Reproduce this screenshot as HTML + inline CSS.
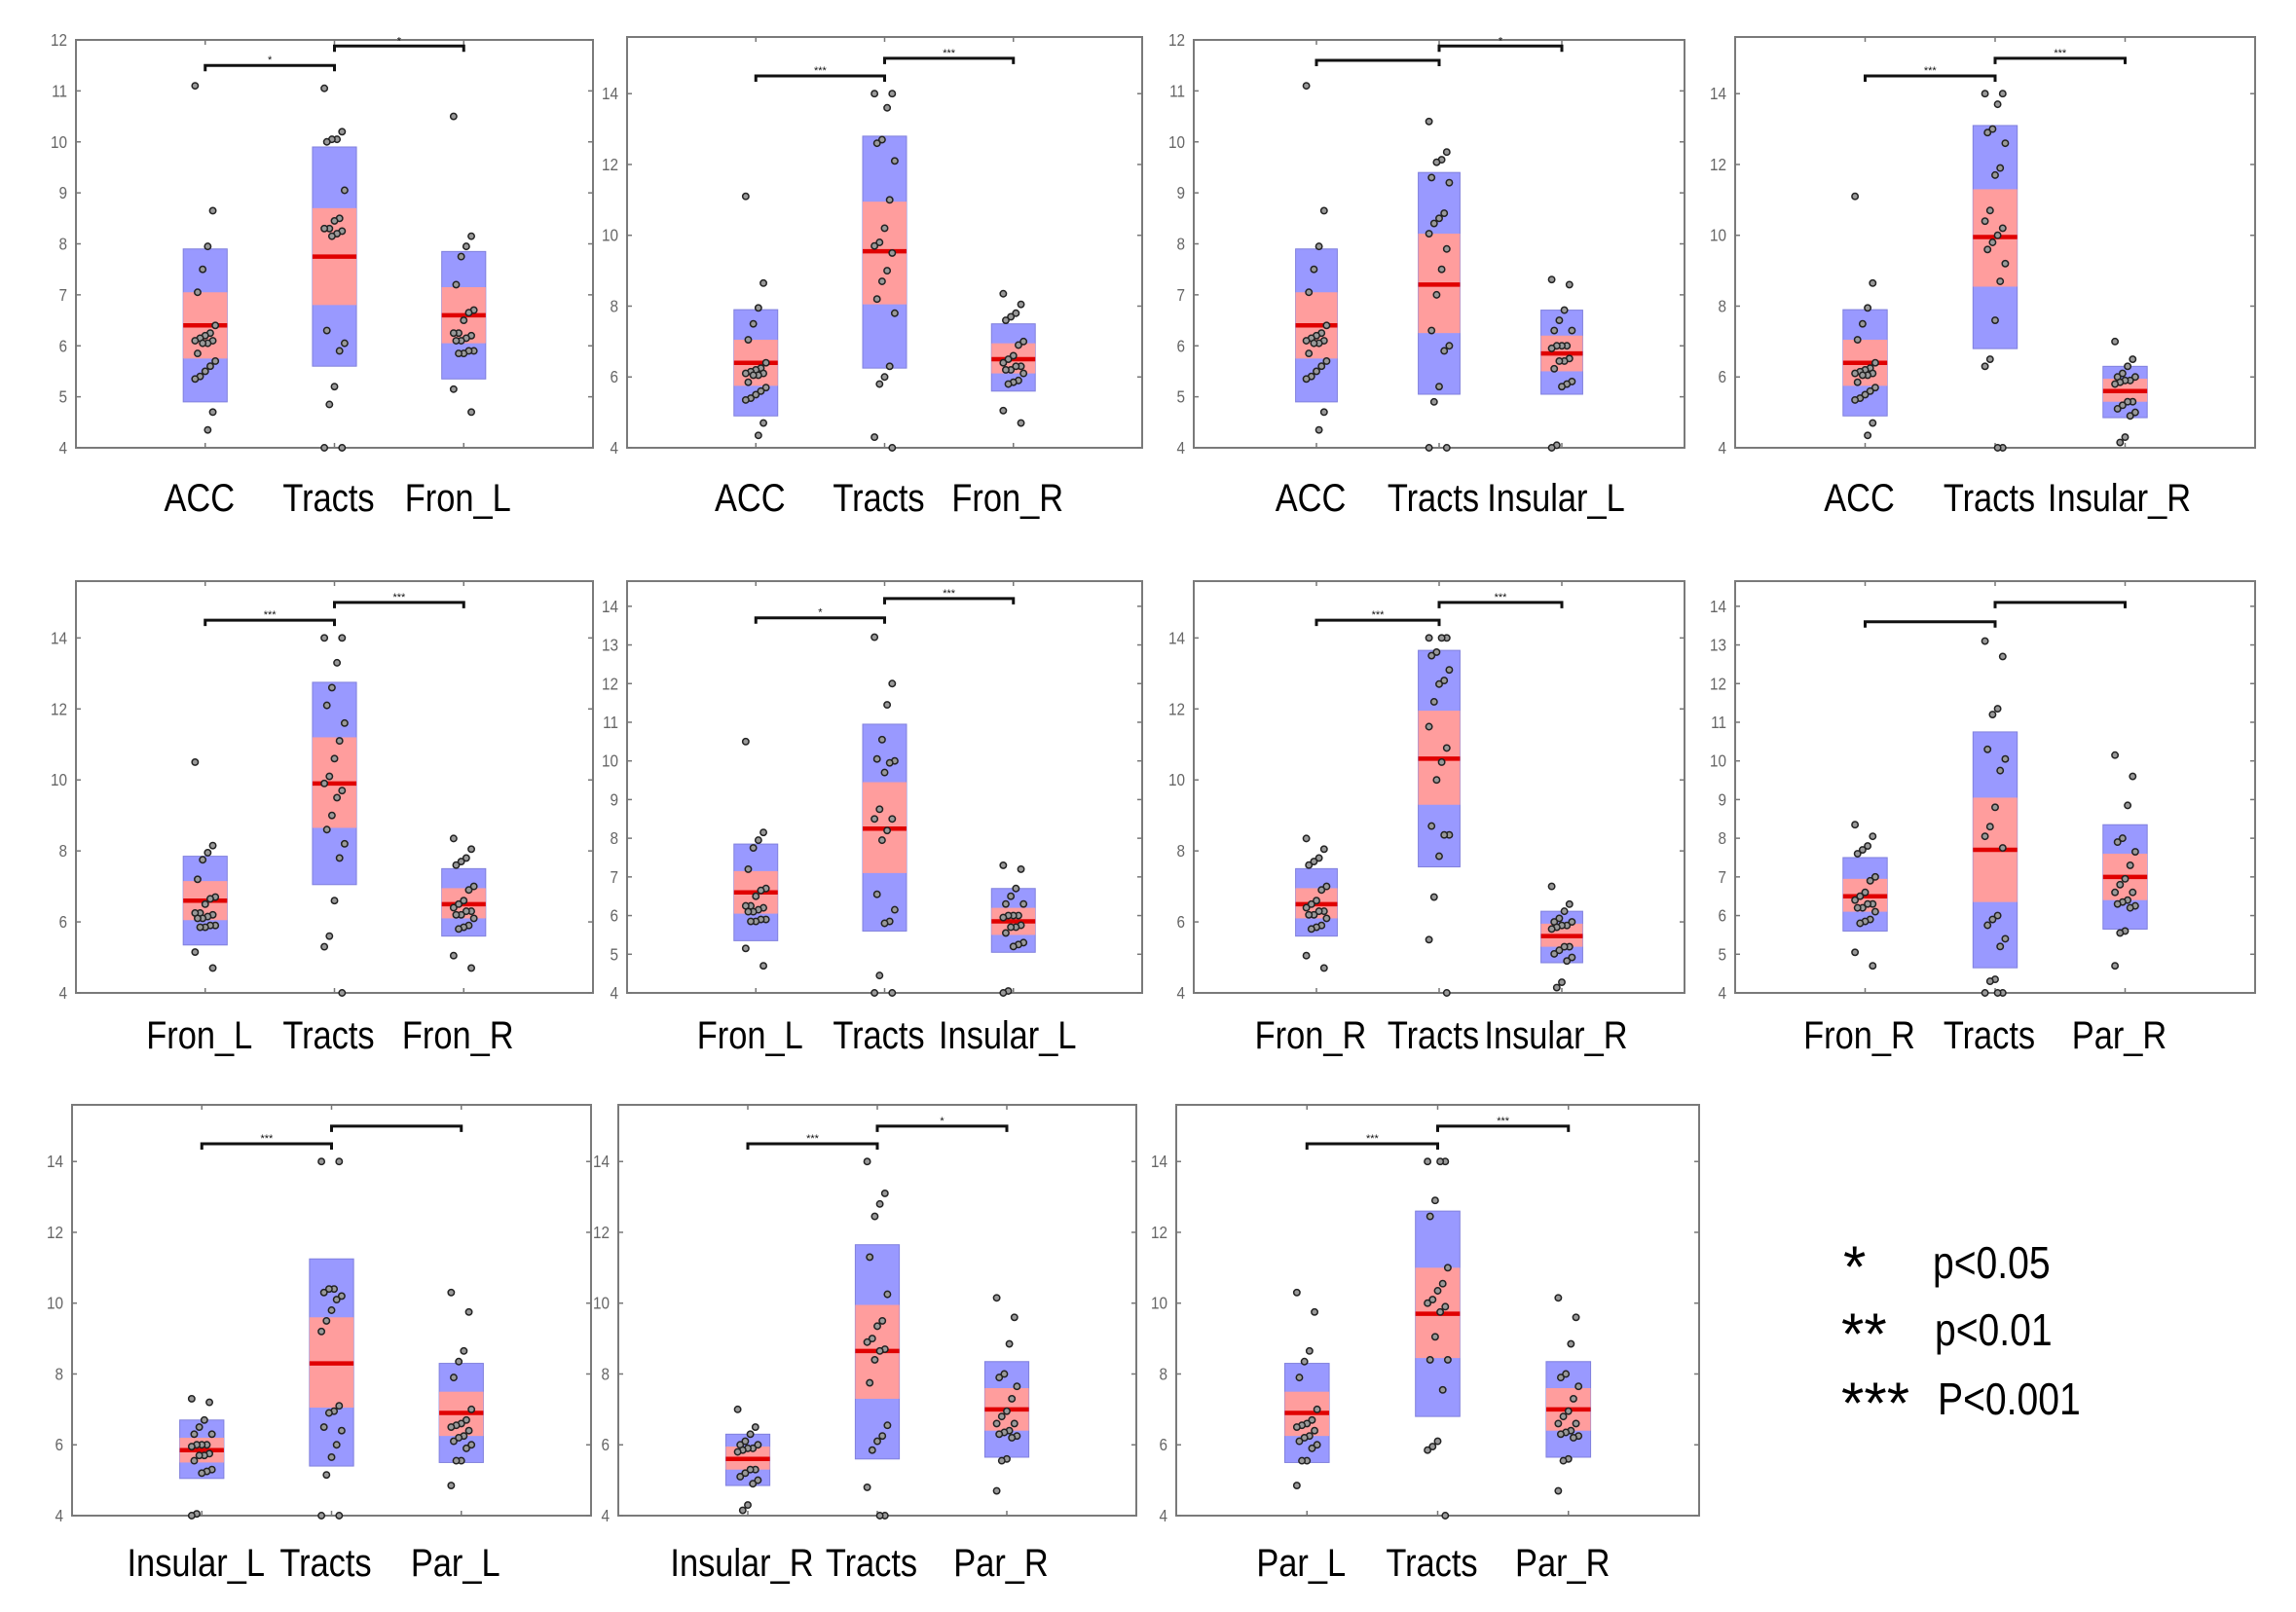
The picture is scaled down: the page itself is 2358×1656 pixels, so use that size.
<!DOCTYPE html>
<html><head><meta charset="utf-8">
<style>
html,body{margin:0;padding:0;background:#fff;}
body{width:2358px;height:1656px;overflow:hidden;}
svg{display:block;}
</style></head>
<body>
<svg id="fig" width="2358" height="1656" xmlns="http://www.w3.org/2000/svg">
<g id="legend" font-family="'Liberation Sans',sans-serif" font-size="46" fill="#000">
<text x="1893" y="1322" font-size="60">*</text>
<text transform="translate(1985,1313) scale(0.85,1)">p&lt;0.05</text>
<text x="1891" y="1391" font-size="60">**</text>
<text transform="translate(1987,1382) scale(0.85,1)">p&lt;0.01</text>
<text x="1891" y="1462" font-size="60">***</text>
<text transform="translate(1990,1453) scale(0.85,1)">P&lt;0.001</text>
</g>
</svg>
<script>
// ---- data ----
const regionBox = {
  ACC:[4.9,5.75,6.4,7.05,7.9],
  Fron_L:[5.35,6.05,6.6,7.15,7.85],
  Fron_R:[5.6,6.1,6.5,6.95,7.5],
  Insular_L:[5.05,5.5,5.85,6.2,6.7],
  Insular_R:[4.85,5.3,5.6,5.95,6.3],
  Par_L:[5.5,6.25,6.9,7.5,8.3],
  Par_R:[5.65,6.4,7.0,7.6,8.35]
};
const regionPts = {
  ACC:[11.1,8.65,7.95,7.5,7.05,6.4,6.25,6.2,6.15,6.1,6.1,6.05,6.05,5.85,5.7,5.6,5.5,5.4,5.35,4.7,4.35],
  Fron_L:[10.5,8.15,7.95,7.75,7.2,6.7,6.65,6.5,6.25,6.25,6.2,6.15,6.1,6.1,5.9,5.9,5.85,5.85,5.15,4.7],
  Fron_R:[8.35,8.05,7.8,7.7,7.6,7.0,6.9,6.6,6.5,6.4,6.3,6.3,6.2,6.2,6.1,5.9,5.85,5.8,5.05,4.7],
  Insular_L:[7.3,7.2,6.7,6.5,6.3,6.3,6.0,6.0,6.0,5.95,5.75,5.7,5.7,5.55,5.3,5.25,5.2,4.05,4.0],
  Insular_R:[7.0,6.5,6.3,6.1,6.0,6.0,5.9,5.9,5.85,5.8,5.3,5.3,5.2,5.1,5.0,4.9,4.3,4.15],
  Par_L:[10.3,9.75,8.65,8.35,7.9,7.0,6.7,6.6,6.55,6.5,6.4,6.25,6.2,6.1,6.0,5.9,5.55,5.55,4.85],
  Par_R:[10.15,9.6,8.85,8.0,7.9,7.65,7.3,6.95,6.8,6.6,6.6,6.4,6.35,6.3,6.25,6.2,5.6,5.55,4.7]
};
const panelCats = [
  ["ACC","Fron_L"],["ACC","Fron_R"],["ACC","Insular_L"],["ACC","Insular_R"],
  ["Fron_L","Fron_R"],["Fron_L","Insular_L"],["Fron_R","Insular_R"],["Fron_R","Par_R"],
  ["Insular_L","Par_L"],["Insular_R","Par_R"],["Par_L","Par_R"]
];
const tractBox = [
  [5.6,6.8,7.75,8.7,9.9],[6.25,8.05,9.55,10.95,12.8],[5.05,6.25,7.2,8.2,9.4],[6.8,8.55,9.95,11.3,13.1],
  [7.05,8.65,9.9,11.2,12.75],[5.6,7.1,8.25,9.45,10.95],[7.55,9.3,10.6,11.95,13.65],[4.65,6.35,7.7,9.05,10.75],
  [5.4,7.05,8.3,9.6,11.25],[5.6,7.3,8.65,9.95,11.65],[6.8,8.45,9.7,11.0,12.6]
];
const tractPts = [
  [11.05,10.2,10.05,10.05,10.0,9.05,8.5,8.45,8.3,8.3,8.25,8.2,8.15,6.3,6.05,5.9,5.2,4.85,4.0,4.0],
  [14,14,13.6,12.7,12.6,12.1,11,10.2,9.8,9.7,9.5,9.0,8.7,8.2,7.8,6.3,6.0,5.8,4.3,4.0],
  [10.4,9.8,9.65,9.6,9.3,9.2,8.6,8.5,8.4,8.2,7.9,7.5,7.0,6.3,6.0,5.9,5.2,4.9,4.0,4.0],
  [14,14,13.7,13,12.9,12.6,11.9,11.7,10.7,10.4,10.2,10,9.8,9.6,9.2,8.7,7.6,6.5,6.3,4,4],
  [14,14,13.3,12.6,12.1,11.6,11.1,10.6,10.1,9.9,9.7,9.5,9.0,8.6,8.2,7.8,6.6,5.6,5.3,4.0],
  [13.2,12.0,11.45,10.55,10.05,10.0,9.95,9.7,8.75,8.5,8.5,8.2,7.95,6.55,6.15,5.85,5.8,4.45,4.0,4.0],
  [14,14,14,13.6,13.5,13.1,12.8,12.7,12.2,11.5,10.9,10.5,10.0,8.7,8.45,8.45,7.85,6.7,5.5,4.0],
  [13.1,12.7,11.35,11.2,10.3,10.05,9.75,8.8,8.3,8.05,7.75,6.0,5.9,5.75,5.4,5.2,4.35,4.3,4.0,4.0,4.0],
  [14,14,10.4,10.4,10.3,10.2,10.1,9.8,9.5,9.2,7.1,6.95,6.9,6.5,6.4,6.0,5.65,5.15,4.0,4.0],
  [14,13.1,12.8,12.45,11.3,10.25,9.5,9.35,9.0,8.9,8.7,8.65,8.4,7.75,6.55,6.25,6.1,5.85,4.8,4.0,4.0],
  [14,14,14,12.9,12.45,11.0,10.55,10.35,10.1,10.0,9.9,9.75,9.05,8.4,8.4,7.55,6.1,5.95,5.85,4.0]
];
const panelYmax = [12,15.6,12,15.6,15.6,14.65,15.6,14.65,15.6,15.6,15.6];
const panelTicks = [
  [4,5,6,7,8,9,10,11,12],[4,6,8,10,12,14],[4,5,6,7,8,9,10,11,12],[4,6,8,10,12,14],
  [4,6,8,10,12,14],[4,5,6,7,8,9,10,11,12,13,14],[4,6,8,10,12,14],[4,5,6,7,8,9,10,11,12,13,14],
  [4,6,8,10,12,14],[4,6,8,10,12,14],[4,6,8,10,12,14]
];
const bracketY = [[11.5,11.88],[14.5,15.0],[11.6,11.88],[14.5,15.0],[14.5,15.0],[13.7,14.2],[14.5,15.0],[13.6,14.1],[14.5,15.0],[14.5,15.0],[14.5,15.0]];
const bracketStars = [["*","*"],["***","***"],["","*"],["***","***"],["***","***"],["*","***"],["***","***"],["",""],["***",""],["***","*"],["***","***"]];

// ---- layout (not data) ----
const layout = [
  [78,41,609,460,511],[644,38,1173,460,511],[1226,41,1730,460,511],[1782,38,2316,460,511],
  [78,597,609,1020,1063],[644,597,1173,1020,1063],[1226,597,1730,1020,1063],[1782,597,2316,1020,1063],
  [74,1135,607,1557,1605],[635,1135,1167,1557,1605],[1208,1135,1745,1557,1605]
];
const NS='http://www.w3.org/2000/svg';
const svg=document.getElementById('fig');
function mk(tag,attrs,parent){const e=document.createElementNS(NS,tag);for(const k in attrs)e.setAttribute(k,attrs[k]);parent.appendChild(e);return e;}

panelCats.forEach((pc,p)=>{
  const [x0,y0,x1,y1,ly]=layout[p];
  const ymax=panelYmax[p];
  const sx=v=>x0+(x1-x0)*v/4;
  const sy=v=>y1-(y1-y0)*(v-4)/(ymax-4);
  const g=mk('g',{},svg);
  
  
  const cats=[pc[0],'Tracts',pc[1]];
  const boxes=[regionBox[pc[0]],tractBox[p],regionBox[pc[1]]];
  const pts=[regionPts[pc[0]],tractPts[p],regionPts[pc[1]]];
  const fr=mk('rect',{x:x0,y:y0,width:x1-x0,height:y1-y0,fill:'none',stroke:'#7a7a7a','stroke-width':2},g);
  
  
  panelTicks[p].forEach(t=>{
    const y=sy(t);
    mk('line',{x1:x0,x2:x0+5,y1:y,y2:y,stroke:'#777','stroke-width':1.5},g);
    mk('line',{x1:x1-5,x2:x1,y1:y,y2:y,stroke:'#777','stroke-width':1.5},g);
    const tl=mk('text',{transform:`translate(${x0-9},${y+6}) scale(0.85,1)`,'text-anchor':'end','font-family':"'Liberation Sans',sans-serif",'font-size':18,fill:'#666'},g);
    tl.textContent=t;
    
    
  });
  cats.forEach((c,i)=>{
    const cx=sx(i+1);
    mk('line',{x1:cx,x2:cx,y1:y1,y2:y1-5,stroke:'#777','stroke-width':1.5},g);
    mk('line',{x1:cx,x2:cx,y1:y0,y2:y0+5,stroke:'#777','stroke-width':1.5},g);
    const b=boxes[i];
    const hw=(x1-x0)/4*0.17;
    const ob=mk('rect',{x:cx-hw,y:sy(b[4]),width:2*hw,height:sy(b[0])-sy(b[4]),fill:'#9999ff',stroke:'#8080dd','stroke-width':1},g);
    
    
    const ib=mk('rect',{x:cx-hw,y:sy(b[3]),width:2*hw,height:sy(b[1])-sy(b[3]),fill:'#ff9d9d'},g);
    
    
    const ml=mk('line',{x1:cx-hw,x2:cx+hw,y1:sy(b[2]),y2:sy(b[2]),stroke:'#e00000','stroke-width':4.5},g);
    
    
    pts[i].forEach((v,k)=>{
      const jx=(((k*7)%9)-4)*2.6;
      const dot=mk('circle',{cx:cx+jx,cy:sy(v),r:3.2,fill:'#999',stroke:'#222','stroke-width':1.5},g);
      
      
    });
    const lab=mk('text',{transform:`translate(${cx-6},${ly+14}) scale(0.86,1)`,'text-anchor':'middle','font-family':"'Liberation Sans',sans-serif",'font-size':40,fill:'#000'},g);
    lab.textContent=c;
    
    
  });
  [0,1].forEach(j=>{
    const xa=sx(j+1),xb=sx(j+2),y=sy(bracketY[p][j]);
    const br=mk('path',{d:`M${xa},${y+6}V${y}H${xb}V${y+6}`,fill:'none',stroke:'#111','stroke-width':3},g);
    
    
    if(bracketStars[p][j]){
      const st=mk('text',{x:(xa+xb)/2,y:y-2,'text-anchor':'middle','font-family':"'Liberation Sans',sans-serif",'font-size':11,fill:'#111'},g);
      st.textContent=bracketStars[p][j];
      
      
    }
  });
});
</script>
</body></html>
